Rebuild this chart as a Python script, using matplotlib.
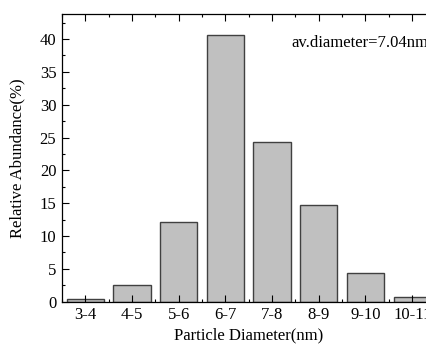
import matplotlib
matplotlib.use("Agg")
import matplotlib.pyplot as plt
from matplotlib.ticker import MultipleLocator

# particle size bins and relative abundance (%)
bins = ["3-4", "4-5", "5-6", "6-7", "7-8", "8-9", "9-10", "10-11"]
abundance = [0.4, 2.5, 12.2, 40.6, 24.3, 14.8, 4.4, 0.7]
note = "av.diameter=7.04nm"

plt.rcParams['font.family'] = ['Liberation Serif', 'DejaVu Serif']
plt.rcParams['font.size'] = 12

fig = plt.figure(figsize=(4.27, 3.44), dpi=100)
ax = fig.add_axes([0.145, 0.123, 0.875, 0.836])

x = list(range(len(bins)))
ax.bar(x, abundance, width=0.8, color='#c0c0c0', edgecolor='#404040', linewidth=1.0)

ax.set_xlim(-0.5, len(bins) - 0.5)
ax.set_ylim(0, 43.8)
ax.set_xticks(x)
ax.set_xticklabels(bins)
ax.xaxis.set_minor_locator(MultipleLocator(1, offset=0.5))
ax.yaxis.set_major_locator(MultipleLocator(5))
ax.yaxis.set_minor_locator(MultipleLocator(2.5))

ax.tick_params(which='both', direction='in', top=True, right=False, width=0.8)
ax.tick_params(which='major', length=5, labelsize=12, pad=4)
ax.tick_params(which='minor', length=2.5)
for s in ax.spines.values():
    s.set_linewidth(0.9)

ax.set_xlabel('Particle Diameter(nm)', fontsize=12, labelpad=3)
ax.set_ylabel('Relative Abundance(%)', fontsize=12, labelpad=10)

# text is allowed to run off the right edge, as in the original
ax.text(4.41, 39.4, note, fontsize=12, va='center', ha='left')

fig.savefig('out.png', dpi=100)
